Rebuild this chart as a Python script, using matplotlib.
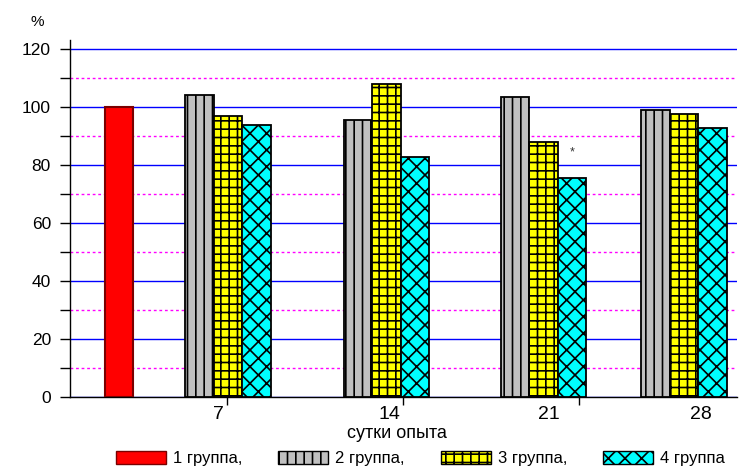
import matplotlib.pyplot as plt
from matplotlib.patches import Patch
from matplotlib.ticker import MultipleLocator, FixedLocator

plt.rcParams['font.family'] = ['Liberation Sans', 'DejaVu Sans']
plt.rcParams['hatch.linewidth'] = 1.2
plt.rcParams['hatch.color'] = 'black'

# --- Dane ---
dni = ['7', '14', '21', '28']
grupa1 = 100.0
grupa2 = [104.1, 95.6, 103.3, 98.8]
grupa3 = [97.0, 108.0, 87.9, 97.7]
grupa4 = [93.7, 82.8, 75.4, 92.9]
nazwy = ['1 группа,', '2 группа,', '3 группа,', '4 группа']
istotne = [False, False, True, False]   # gwiazdka nad 4 grupa

# --- Uklad (jednostki osi x ~ piksele) ---
SZER = 28.5
X_KONTROLA = 49
X_GRUP = [158, 316.3, 473.5, 614]
X_TICKI = [157.3, 332.7, 509]
X_ETYKIETY = [148, 319.3, 479.3, 631]

kolory = ['#ff0000', '#c0c0c0', '#ffff00', '#00ffff']
wzory = [None, '||', '++', 'xx']
krawedzie = ['#7a0000', 'black', 'black', 'black']

fig = plt.figure(figsize=(7.51, 4.67), dpi=100)
ax = fig.add_axes([70 / 751, 70 / 467, 667 / 751, 356.7 / 467])

ax.bar(X_KONTROLA, grupa1, width=SZER, color=kolory[0], edgecolor=krawedzie[0],
       linewidth=1.5, zorder=3)
for k, wartosci in enumerate([grupa2, grupa3, grupa4]):
    xs = [x + (k - 1) * SZER for x in X_GRUP]
    ax.bar(xs, wartosci, width=SZER, color=kolory[k + 1], edgecolor=krawedzie[k + 1],
           hatch=wzory[k + 1], linewidth=1.3, zorder=3)

for x, v, gw in zip(X_GRUP, grupa4, istotne):
    if gw:
        ax.text(x + SZER, v + 9, '*', ha='center', va='center', fontsize=9, color='#333333')

ax.set_xlim(0, 667)
ax.set_ylim(0, 123)

# os y
ax.yaxis.set_major_locator(MultipleLocator(20))
ax.yaxis.set_minor_locator(MultipleLocator(10))
ax.set_yticks(range(0, 121, 20))
ax.tick_params(axis='y', which='both', direction='out', length=7.2, width=1,
               labelsize=12.5, pad=6.5)
ax.grid(True, axis='y', which='major', color='#0000ff', linewidth=1)
ax.grid(True, axis='y', which='minor', color='#ff00ff', linewidth=1, linestyle=(0, (2, 2)))
ax.set_axisbelow(True)

# os x: etykiety i kreski w innych miejscach
ax.set_xticks(X_ETYKIETY, dni)
ax.xaxis.set_minor_locator(FixedLocator(X_TICKI))
ax.tick_params(axis='x', which='major', length=0, labelsize=14, pad=6.5)
ax.tick_params(axis='x', which='minor', direction='out', length=5.5, width=1)

for s in ['top', 'right']:
    ax.spines[s].set_visible(False)
for s in ['left', 'bottom']:
    ax.spines[s].set_linewidth(1)

fig.text(37 / 751, 1 - 22.5 / 467, '%', ha='center', va='center', fontsize=11)
fig.text(397 / 751, 1 - 434 / 467, 'сутки опыта', ha='center', va='center', fontsize=13)

uchwyty = [Patch(facecolor=c, edgecolor=e, hatch=h, linewidth=1)
           for c, e, h in zip(kolory, krawedzie, wzory)]
fig.legend(uchwyty, nazwy, ncol=4, loc='center left',
           bbox_to_anchor=(116 / 751, 1 - 458.5 / 467), frameon=False,
           fontsize=12, borderpad=0, borderaxespad=0, handlelength=3.0,
           handleheight=0.82, handletextpad=0.42, columnspacing=2.16)

fig.savefig('out.png', dpi=100)
